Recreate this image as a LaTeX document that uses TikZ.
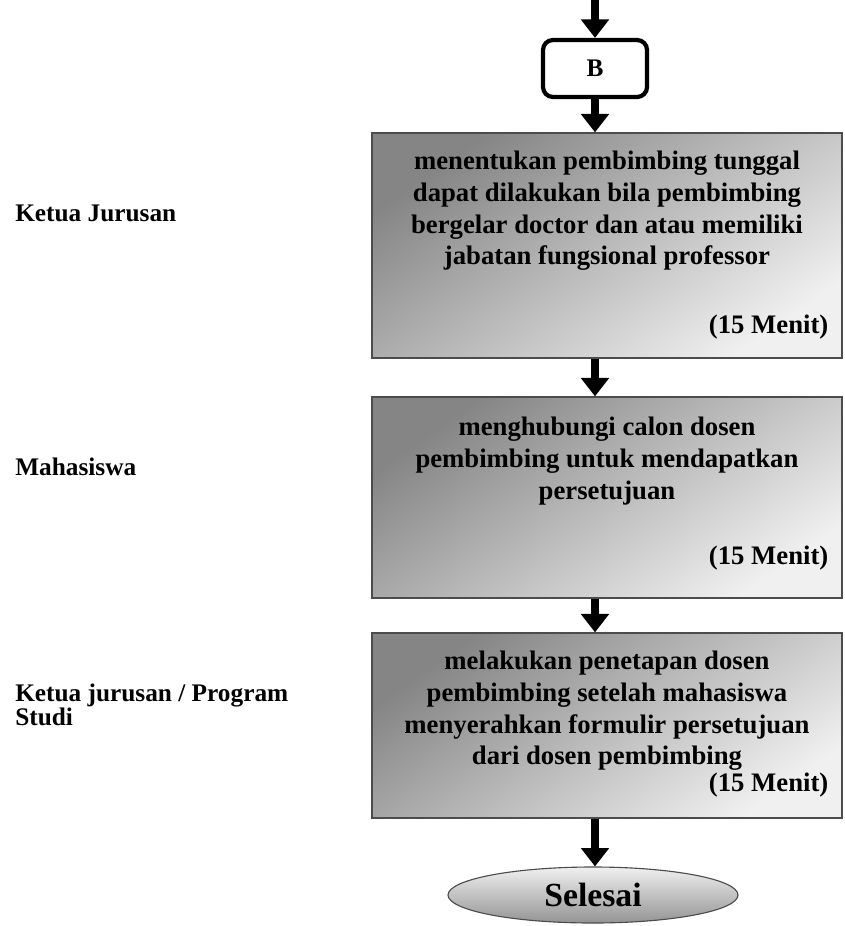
\documentclass[tikz,border=0pt]{standalone}
\usepackage{fontspec}
\setmainfont{Liberation Serif}
\usetikzlibrary{positioning,arrows.meta,shapes.geometric}
\tikzset{
	flowarrow/.style = {line width=5pt, -{Triangle[width=0.68cm, length=0.46cm]}},
	connbox/.style = {draw, line width=3pt, rounded corners=0.25cm, minimum width=2.6cm, minimum height=1.425cm, font=\fontsize{18}{20}\selectfont\bfseries},
	stepbox/.style = {draw=black!70, line width=0.9pt, top color=black!48, bottom color=black!6, shading angle=35, minimum width=11.75cm, inner sep=0pt},
	steptext/.style = {align=center, inner sep=0pt, font=\fontsize{19}{22.7}\selectfont\bfseries},
	timetext/.style = {inner sep=0pt, font=\fontsize{19}{22.7}\selectfont\bfseries},
	endnode/.style = {ellipse, draw=black!70, line width=0.8pt, top color=black!6, bottom color=black!42, minimum width=7.25cm, minimum height=1.4cm, font=\fontsize{24}{26}\selectfont\bfseries},
	rolelabel/.style = {anchor=west, align=left, inner sep=0pt, font=\fontsize{18}{15}\selectfont\bfseries}
}
\begin{document}
\begin{tikzpicture}
\useasboundingbox (0,0) rectangle (21.1,-23.15);

% NODES
% connector B
\coordinate (top) at (14.875,0);
\node (B) [connbox] at (14.875,-1.7125) {B};
% steps
\node (step1) [stepbox, minimum height=5.625cm] at (15.175,-6.1375) {};
\node (text1) [steptext, below=0.45cm of step1.north] {menentukan pembimbing tunggal\\dapat dilakukan bila pembimbing\\bergelar doctor dan atau memiliki\\jabatan fungsional professor};
\node (time1) [timetext, above left=0.48cm and 0.35cm of step1.south east] {(15 Menit)};
\node (step2) [stepbox, minimum height=5.025cm] at (15.175,-12.4375) {};
\node (text2) [steptext, below=0.5cm of step2.north] {menghubungi calon dosen\\pembimbing untuk mendapatkan\\persetujuan};
\node (time2) [timetext, above left=0.7cm and 0.35cm of step2.south east] {(15 Menit)};
\node (step3) [stepbox, minimum height=4.625cm] at (15.175,-18.1375) {};
\node (text3) [steptext, below=0.45cm of step3.north] {melakukan penetapan dosen\\pembimbing setelah mahasiswa\\menyerahkan formulir persetujuan\\dari dosen pembimbing};
\node (time3) [timetext, above left=0.52cm and 0.35cm of step3.south east] {(15 Menit)};
% end
\node (end) [endnode] at (14.825,-22.375) {Selesai};
% roles
\node (role1) [rolelabel] at (0.375,-5.325) {Ketua Jurusan};
\node (role2) [rolelabel] at (0.375,-11.675) {Mahasiswa};
\node (role3) [rolelabel] at (0.375,-17.625) {Ketua jurusan / Program\\Studi};

%CONNECTIONS
\draw [flowarrow] (top) -- (B);
\draw [flowarrow] (B) -- (B |- step1.north);
\draw [flowarrow] (B |- step1.south) -- (B |- step2.north);
\draw [flowarrow] (B |- step2.south) -- (B |- step3.north);
\draw [flowarrow] (B |- step3.south) -- (B |- end.north);

\end{tikzpicture}
\end{document}
